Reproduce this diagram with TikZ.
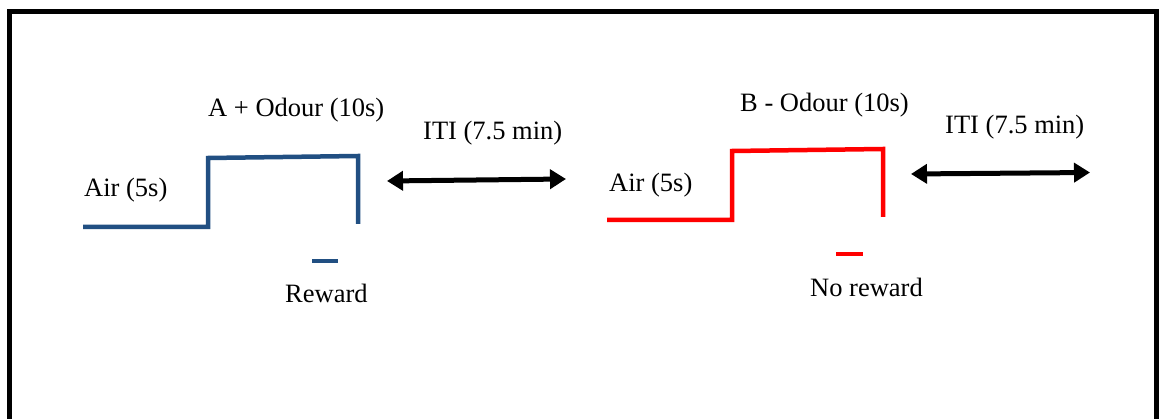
\documentclass[tikz,border=0pt]{standalone}
\usepackage{fontspec}
\setmainfont{Liberation Serif}
\usetikzlibrary{arrows.meta}
\definecolor{traceblue}{RGB}{33,79,130}
\definecolor{tracered}{RGB}{255,0,0}
\tikzset{
  lbl/.style={anchor=base west, inner sep=0pt, font=\fontsize{26.5}{31}\selectfont},
  trace/.style={line width=4.5pt, line join=miter},
  iti/.style={line width=5pt, {Triangle[length=16pt,width=19pt]}-{Triangle[length=16pt,width=19pt]}},
  frame/.style={line width=5pt, line join=miter},
}
\begin{document}
\begin{tikzpicture}[x=1pt,y=-1pt]
\useasboundingbox (0,0) rectangle (1159,419);
% frame (bottom edge cut off)
\coordinate (fbl) at (9.5,425);
\coordinate (ftl) at (9.5,11.5);
\coordinate (ftr) at (1156.5,11.5);
\coordinate (fbr) at (1156.5,425);
\draw[frame] (fbl) -- (ftl) -- (ftr) -- (fbr);

% blue trace
\coordinate (b0) at (83,227);
\coordinate (b1) at (208,227);
\coordinate (b2) at (208,158);
\coordinate (b3) at (358,156);
\coordinate (b4) at (358,224);
\draw[trace, traceblue] (b0) -- (b1) -- (b2) -- (b3) -- (b4);
\coordinate (rw0) at (312,261);
\coordinate (rw1) at (338,261);
\draw[trace, traceblue] (rw0) -- (rw1);

% red trace
\coordinate (r0) at (607,220);
\coordinate (r1) at (732,220);
\coordinate (r2) at (732,151);
\coordinate (r3) at (883,149);
\coordinate (r4) at (883,217);
\draw[trace, tracered] (r0) -- (r1) -- (r2) -- (r3) -- (r4);
\coordinate (nr0) at (836,254);
\coordinate (nr1) at (863,254);
\draw[trace, tracered] (nr0) -- (nr1);

% ITI arrows
\coordinate (ia0) at (387,181);
\coordinate (ia1) at (566,179);
\draw[iti] (ia0) -- (ia1);
\coordinate (ib0) at (911,174);
\coordinate (ib1) at (1090,172.5);
\draw[iti] (ib0) -- (ib1);

% labels
\node[lbl] (tA) at (208,117) {A + Odour (10s)};
\node[lbl] (itiA) at (423,140) {ITI (7.5 min)};
\node[lbl] (airA) at (84,197) {Air (5s)};
\node[lbl] (rew) at (285,303) {Reward};
\node[lbl] (tB) at (740,112) {B - Odour (10s)};
\node[lbl] (itiB) at (945,134) {ITI (7.5 min)};
\node[lbl] (airB) at (609,192) {Air (5s)};
\node[lbl] (norew) at (810,297) {No reward};
\end{tikzpicture}
\end{document}
